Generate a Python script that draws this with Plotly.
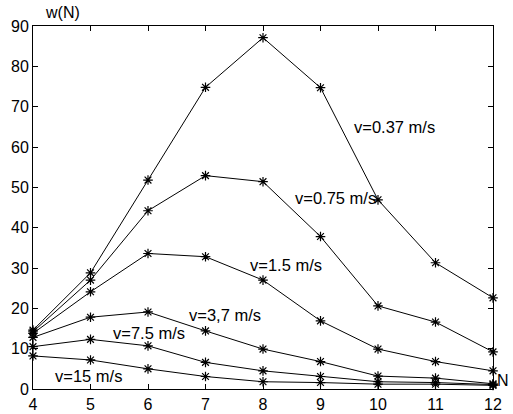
import plotly.graph_objects as go

N = [4, 5, 6, 7, 8, 9, 10, 11, 12]
w_037 = [14.6, 28.8, 51.8, 74.8, 87.1, 74.7, 46.9, 31.3, 22.6]
w_075 = [14.2, 27.0, 44.2, 52.9, 51.4, 37.8, 20.6, 16.6, 9.2]
w_15 = [13.8, 24.1, 33.6, 32.8, 27.0, 16.9, 9.9, 6.8, 4.5]
w_37 = [12.8, 17.8, 19.1, 14.4, 9.9, 6.8, 3.2, 2.7, 1.3]
w_75 = [10.5, 12.3, 10.7, 6.6, 4.5, 3.1, 1.8, 1.6, 1.1]
w_150 = [8.2, 7.2, 5.0, 3.1, 1.8, 1.6, 1.2, 1.2, 0.9]

series = [w_037, w_075, w_15, w_37, w_75, w_150]
labels = ["v=0.37 m/s", "v=0.75 m/s", "v=1.5 m/s", "v=3,7 m/s", "v=7.5 m/s", "v=15 m/s"]
label_pos = [(9.54, 65.0), (8.53, 47.4), (7.74, 30.7), (6.68, 18.3), (5.35, 13.8), (4.35, 3.2)]

FONT = "Liberation Sans, Arial, sans-serif"

fig = go.Figure()
for ys in series:
    fig.add_trace(go.Scatter(
        x=N, y=ys, mode="lines+markers",
        line=dict(color="#000000", width=1),
        marker=dict(symbol="asterisk-open", size=8, color="#000000",
                    line=dict(color="#000000", width=1.2)),
        showlegend=False, hoverinfo="skip", cliponaxis=False))

annotations = []
for txt, (ax, ay) in zip(labels, label_pos):
    annotations.append(dict(x=ax, y=ay, xref="x", yref="y", text=txt,
                            showarrow=False, xanchor="left", yanchor="middle",
                            font=dict(family=FONT, size=16.5, color="#000000")))
annotations.append(dict(x=1, y=2, xref="paper", yref="y", text="N", showarrow=False,
                        xanchor="left", yanchor="middle", xshift=2,
                        font=dict(family=FONT, size=16, color="#000000")))
annotations.append(dict(x=0.021, y=1, xref="paper", yref="paper", text="w(N)",
                        showarrow=False, xanchor="left", yanchor="bottom", yshift=3,
                        font=dict(family=FONT, size=16, color="#000000")))

axis_common = dict(showgrid=False, zeroline=False, showline=True, linecolor="#000000",
                   linewidth=1, mirror="ticks", ticks="inside", ticklen=5,
                   tickcolor="#000000", tickwidth=1, automargin=False,
                   tickfont=dict(family=FONT, size=16, color="#000000"))

fig.update_layout(
    width=513, height=414,
    margin=dict(l=33, r=20, t=26, b=25),
    paper_bgcolor="white", plot_bgcolor="white",
    xaxis=dict(range=[4, 12], tickmode="array", tickvals=N, ticktext=[str(n) for n in N],
               ticklabelstandoff=1, **axis_common),
    yaxis=dict(range=[0, 90], tickmode="array", tickvals=list(range(0, 91, 10)),
               ticktext=[str(v) for v in range(0, 91, 10)], **axis_common),
    annotations=annotations,
)

fig.write_html("out.html")
